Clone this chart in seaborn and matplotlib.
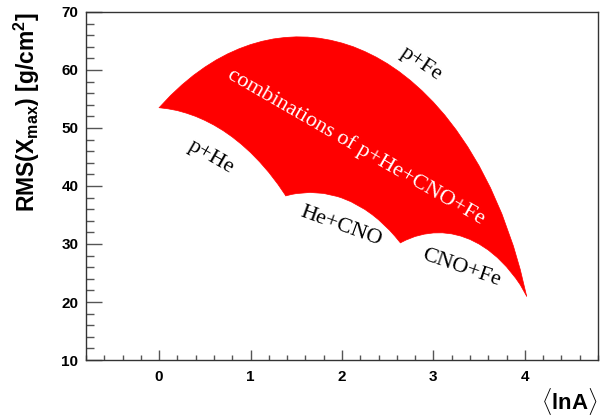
import matplotlib
matplotlib.use("Agg")
import matplotlib.pyplot as plt
from matplotlib.ticker import MultipleLocator
import pandas as pd
import seaborn as sns

# Upper boundary: p+Fe mixtures
pfe_x = [0.0, 0.125, 0.25, 0.375, 0.5, 0.625, 0.75, 0.875, 1.0, 1.125, 1.25, 1.375,
         1.5, 1.625, 1.75, 1.875, 2.0, 2.125, 2.25, 2.375, 2.5, 2.625, 2.75, 2.875,
         3.0, 3.125, 3.25, 3.375, 3.5, 3.625, 3.75, 3.875, 3.95, 4.02]
pfe_y = [53.5, 55.6, 57.44, 59.07, 60.49, 61.73, 62.78, 63.66, 64.38, 64.94, 65.35, 65.6,
         65.71, 65.67, 65.48, 65.13, 64.64, 64.0, 63.18, 62.21, 61.06, 59.72, 58.18, 56.43,
         54.45, 52.21, 49.66, 46.77, 43.48, 39.66, 35.16, 29.65, 25.6, 21.0]

# Lower boundary pieces
phe_x = [0.0, 0.1, 0.2, 0.3, 0.4, 0.5, 0.6, 0.7, 0.8, 0.9, 1.0, 1.1, 1.2, 1.3, 1.386]
phe_y = [53.5, 53.3, 53.0, 52.55, 52.0, 51.31, 50.5, 49.55, 48.45, 47.19, 45.77, 44.15,
         42.34, 40.28, 38.3]

hecno_x = [1.386, 1.45, 1.5, 1.65, 1.8, 1.95, 2.0, 2.1, 2.25, 2.33, 2.4, 2.52, 2.58, 2.639]
hecno_y = [38.3, 38.55, 38.69, 38.89, 38.72, 38.19, 37.93, 37.28, 35.96, 35.07, 34.18,
           32.38, 31.33, 30.2]

cnofe_x = [2.639, 2.7, 2.8, 2.9, 3.0, 3.1, 3.2, 3.3, 3.4, 3.5, 3.6, 3.7, 3.8, 3.9, 3.95, 4.02]
cnofe_y = [30.2, 30.68, 31.3, 31.7, 31.91, 31.93, 31.75, 31.37, 30.79, 29.99, 28.96, 27.66,
           26.06, 24.11, 22.97, 21.0]

labels = ["p+Fe", "combinations of p+He+CNO+Fe", "p+He", "He+CNO", "CNO+Fe"]

sns.set_theme(style="ticks")
plt.rcParams["font.family"] = ["Liberation Sans", "DejaVu Sans"]
plt.rcParams["text.color"] = "black"
plt.rcParams["axes.labelcolor"] = "black"
plt.rcParams["mathtext.fontset"] = "custom"
plt.rcParams["mathtext.rm"] = "Liberation Sans:bold"
plt.rcParams["mathtext.bf"] = "Liberation Sans:bold"
plt.rcParams["mathtext.it"] = "Liberation Sans:bold"
plt.rcParams["mathtext.default"] = "rm"

fig = plt.figure(figsize=(6, 4.19), dpi=100)
ax = fig.add_axes([0.1433, 0.1408, 0.8533, 0.8306])

poly_x = pfe_x + cnofe_x[::-1] + hecno_x[::-1] + phe_x[::-1]
poly_y = pfe_y + cnofe_y[::-1] + hecno_y[::-1] + phe_y[::-1]
ax.fill(poly_x, poly_y, color="#ff0000", lw=0, zorder=1)

for xs, ys in [(pfe_x, pfe_y), (phe_x, phe_y), (hecno_x, hecno_y), (cnofe_x, cnofe_y)]:
    df = pd.DataFrame({"x": xs, "y": ys})
    sns.lineplot(data=df, x="x", y="y", sort=False, estimator=None,
                 color="#ff0000", lw=0.5, ax=ax, zorder=2)

serif = dict(family="Liberation Serif", fontsize=16, ha="center", va="center",
             rotation_mode="anchor")
ax.text(2.87, 61.0, labels[0], rotation=-34, color="black", **serif)
ax.text(2.15, 46.8, labels[1], rotation=-30, color="white", **serif)
ax.text(0.57, 45.0, labels[2], rotation=-30, color="black", **serif)
ax.text(1.99, 33.1, labels[3], rotation=-20, color="black", **serif)
ax.text(3.31, 25.9, labels[4], rotation=-19, color="black", **serif)

ax.set_xlim(-0.8, 4.8)
ax.set_ylim(10, 70)
ax.xaxis.set_major_locator(MultipleLocator(1))
ax.xaxis.set_minor_locator(MultipleLocator(0.2))
ax.yaxis.set_major_locator(MultipleLocator(10))
ax.yaxis.set_minor_locator(MultipleLocator(2))

for s in ax.spines.values():
    s.set_visible(True)
    s.set_color("#333333")
    s.set_linewidth(1.0)

ax.tick_params(axis="both", which="both", direction="in", colors="#555555",
               labelcolor="black", width=1.0, top=False, right=False)
ax.tick_params(axis="y", which="major", length=11.5, pad=5.5)
ax.tick_params(axis="y", which="minor", length=5.8)
ax.tick_params(axis="x", which="major", length=7.2, pad=7)
ax.tick_params(axis="x", which="minor", length=3.6)
for lab in ax.get_xticklabels() + ax.get_yticklabels():
    lab.set_fontweight("bold")
    lab.set_fontsize(11)

ax.set_xlabel(r"$\langle$lnA$\rangle$", loc="right", fontsize=16, fontweight="bold",
              color="black")
ax.set_ylabel(r"RMS(X$_{max}$) [g/cm$^{2}$]", loc="top", fontsize=16.5,
              fontweight="bold", color="black")
ax.xaxis.set_label_coords(1.0, -0.075)
ax.yaxis.set_label_coords(-0.086, 1.0)
ax.grid(False)

fig.savefig("out.png", dpi=100)
